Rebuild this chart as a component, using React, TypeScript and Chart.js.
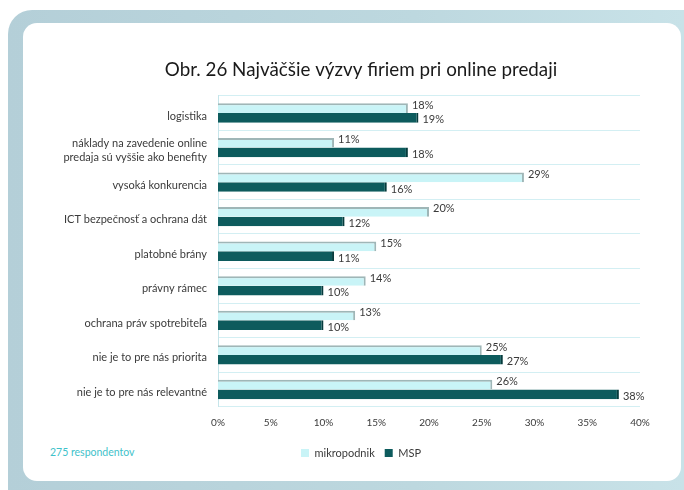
import React, { useEffect, useRef } from "react";
import { Chart, registerables } from "chart.js";

Chart.register(...registerables);

const categories: (string | string[])[] = [
  "logistika",
  ["náklady na zavedenie online", "predaja sú vyššie ako benefity"],
  "vysoká konkurencia",
  "ICT bezpečnosť a ochrana dát",
  "platobné brány",
  "právny rámec",
  "ochrana práv spotrebiteľa",
  "nie je to pre nás priorita",
  "nie je to pre nás relevantné",
];
const mikropodnik = [18, 11, 29, 20, 15, 14, 13, 25, 26];
const msp = [19, 18, 16, 12, 11, 10, 10, 27, 38];
const xTicks = [0, 5, 10, 15, 20, 25, 30, 35, 40];
const titleText = "Obr. 26 Najväčšie výzvy firiem pri online predaji";
const noteText = "275 respondentov";

const FONT = "Lato, 'Open Sans', sans-serif";
const TEXT = "#3a3a3a";

const valueLabels = {
  id: "valueLabels",
  afterDatasetsDraw(chart: any) {
    const ctx = chart.ctx;
    ctx.save();
    ctx.font = `11px ${FONT}`;
    ctx.fillStyle = TEXT;
    ctx.textAlign = "left";
    ctx.textBaseline = "middle";
    chart.data.datasets.forEach((ds: any, di: number) => {
      const meta = chart.getDatasetMeta(di);
      meta.data.forEach((bar: any, i: number) => {
        const v = ds.data[i];
        const dy = di === 0 ? -3 : 2;
        ctx.fillText(`${v}%`, bar.x + 4, bar.y + dy);
      });
    });
    ctx.restore();
  },
};

// centre the title and legend over the band used in the original (x 82..640)
const centerBoxes = {
  id: "centerBoxes",
  afterLayout(chart: any) {
    [chart.legend, chart.titleBlock].forEach((b: any) => {
      if (!b) return;
      b.left = 82;
      b.right = 640;
      b.width = 558;
    });
  },
};

export default function App() {
  const ref = useRef<HTMLCanvasElement | null>(null);
  useEffect(() => {
    if (!ref.current) return;
    const chart = new Chart(ref.current, {
      type: "bar",
      data: {
        labels: categories,
        datasets: [
          {
            label: "mikropodnik",
            data: mikropodnik,
            backgroundColor: "#c9f4f7",
            borderColor: "#9fb6b7",
            borderWidth: { top: 2, right: 2, bottom: 0, left: 0 },
            borderSkipped: false,
            categoryPercentage: 0.56,
            barPercentage: 1,
          },
          {
            label: "MSP",
            data: msp,
            backgroundColor: "#0d5b5d",
            borderColor: "#063b3c",
            borderWidth: { top: 0, right: 2, bottom: 0, left: 0 },
            borderSkipped: false,
            categoryPercentage: 0.56,
            barPercentage: 1,
          },
        ],
      },
      options: {
        indexAxis: "y",
        animation: false,
        responsive: false,
        maintainAspectRatio: false,
        layout: { padding: { top: 0, left: 0, right: 44, bottom: 21.5 } },
        scales: {
          x: {
            min: 0,
            max: 40,
            afterBuildTicks: (axis: any) => {
              axis.ticks = xTicks.map((v) => ({ value: v }));
            },
            afterFit: (axis: any) => {
              axis.height = 30.75;
            },
            grid: { display: false, drawTicks: false },
            border: { display: false },
            ticks: {
              padding: 10,
              color: TEXT,
              font: { family: FONT, size: 10 },
              callback: (v: any) => `${v}%`,
            },
          },
          y: {
            afterFit: (axis: any) => {
              axis.width = 218;
            },
            grid: {
              offset: true,
              color: "#d3eff3",
              drawTicks: false,
              lineWidth: 1,
            },
            border: { display: true, color: "#c6e5ea" },
            ticks: {
              padding: 11,
              labelOffset: 3,
              color: TEXT,
              font: { family: FONT, size: 11, lineHeight: 1.25 },
            },
          },
        },
        plugins: {
          title: {
            display: true,
            text: titleText,
            color: "#1a1a1a",
            font: { family: FONT, size: 18.8, weight: "normal" },
            padding: { top: 59, bottom: 14.19 },
          },
          legend: {
            display: true,
            position: "bottom",
            labels: {
              boxWidth: 8,
              boxHeight: 8,
              padding: 10,
              color: TEXT,
              font: { family: FONT, size: 11 },
              generateLabels: (c: any) =>
                Chart.defaults.plugins.legend.labels
                  .generateLabels(c)
                  .map((l: any) => ({ ...l, lineWidth: 0, strokeStyle: "transparent" })),
            },
          },
          tooltip: { enabled: false },
        },
      },
      plugins: [valueLabels, centerBoxes],
    } as any);
    return () => chart.destroy();
  }, []);

  return (
    <div style={{ position: "absolute", left: 0, top: 0, width: 684, height: 490, overflow: "hidden" }}>
      <div
        style={{
          position: "absolute",
          left: 8,
          top: 10,
          width: 676,
          height: 480,
          borderTopLeftRadius: 24,
          background: "linear-gradient(90deg, #b4cfd8 0%, #bdd8df 60%, #c8e2e8 100%)",
        }}
      />
      <div
        style={{
          position: "absolute",
          left: 23,
          top: 23,
          width: 658,
          height: 458,
          borderRadius: 14,
          background: "#ffffff",
        }}
      />
      <div
        style={{
          position: "absolute",
          left: 50,
          top: 446,
          fontFamily: FONT,
          fontSize: 10.5,
          color: "#3fc2ca",
          whiteSpace: "nowrap",
        }}
      >
        {noteText}
      </div>
      <canvas ref={ref} width={684} height={490} style={{ position: "absolute", left: 0, top: 0 }} />
    </div>
  );
}
